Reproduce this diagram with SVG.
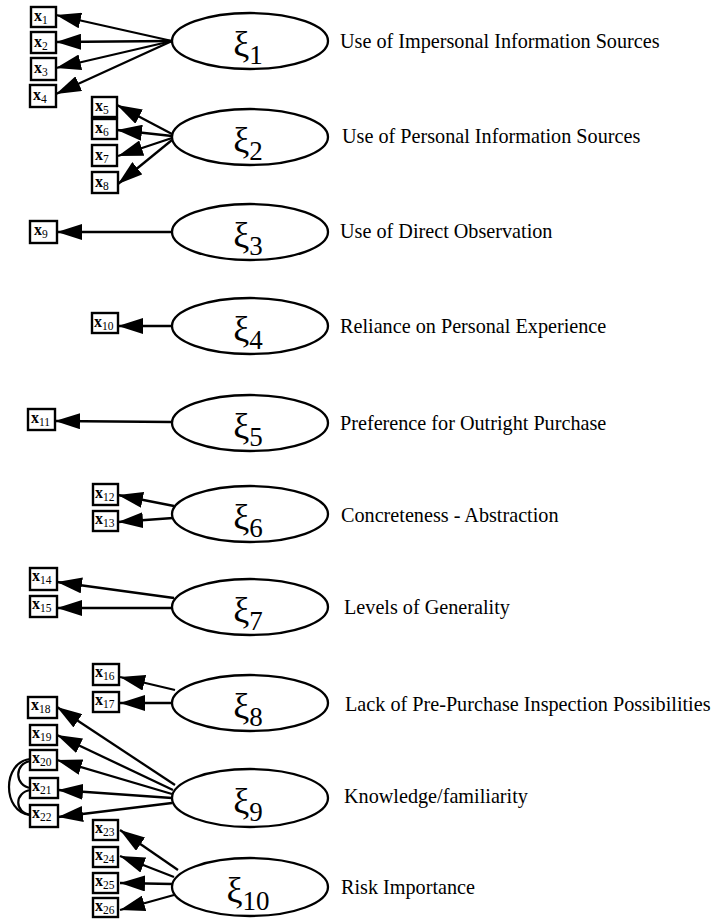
<svg xmlns="http://www.w3.org/2000/svg" width="717" height="919" viewBox="0 0 717 919">
  <style>
    .lat { fill: #fff; stroke: #000; stroke-width: 2.3; }
    .box { fill: #fff; stroke: #000; stroke-width: 2.4; }
    .xi { font-family: "Liberation Serif", "DejaVu Serif", serif; font-size: 36px; fill: #000; text-anchor: middle; }
    .xi tspan { font-size: 27px; }
    .lbl { font-family: "Liberation Serif", "DejaVu Serif", serif; font-size: 20.2px; fill: #000; }
    .ind { font-family: "Liberation Serif", "DejaVu Serif", serif; font-size: 16px; font-weight: bold; fill: #000; }
    .ind tspan { font-size: 11.5px; font-weight: normal; }
    .arr line { stroke: #000; stroke-width: 2.3; marker-end: url(#head); }
    .cov { fill: none; stroke: #000; stroke-width: 2.2; }
  </style>
  <defs>
    <marker id="head" viewBox="0 0 25 16" refX="25" refY="8" markerWidth="25" markerHeight="16" markerUnits="userSpaceOnUse" orient="auto">
      <path d="M0,0 L25,8 L0,16 Z" fill="#000"/>
    </marker>
  </defs>

  <!-- connectors: factor loadings and error covariances -->
  <g id="connectors" class="arr">
    <line x1="172" y1="41" x2="56" y2="15"/>
    <line x1="172" y1="41" x2="56" y2="42"/>
    <line x1="172" y1="41" x2="56" y2="68"/>
    <line x1="172" y1="41" x2="56" y2="94"/>

    <line x1="172" y1="134" x2="117" y2="105"/>
    <line x1="172" y1="136" x2="117" y2="130"/>
    <line x1="172" y1="138" x2="118" y2="156"/>
    <line x1="172" y1="140" x2="118" y2="184"/>

    <line x1="172" y1="232" x2="57" y2="232"/>
    <line x1="172" y1="326" x2="118" y2="326"/>
    <line x1="172" y1="422" x2="55" y2="421"/>

    <line x1="174" y1="506" x2="118" y2="495"/>
    <line x1="173" y1="518" x2="118" y2="522"/>

    <line x1="174" y1="598" x2="57" y2="582"/>
    <line x1="172" y1="608" x2="57" y2="608"/>

    <line x1="175" y1="690" x2="120" y2="677"/>
    <line x1="172" y1="703" x2="120" y2="703"/>

    <line x1="175" y1="785" x2="57" y2="707"/>
    <line x1="173" y1="790" x2="57" y2="735"/>
    <line x1="172" y1="794" x2="57" y2="760"/>
    <line x1="172" y1="798" x2="58" y2="790"/>
    <line x1="172" y1="803" x2="58" y2="817"/>

    <line x1="178" y1="870" x2="120" y2="830"/>
    <line x1="174" y1="877" x2="120" y2="856"/>
    <line x1="172" y1="884" x2="120" y2="883"/>
    <line x1="174" y1="895" x2="120" y2="910"/>

    <path class="cov" d="M30,759 C2,762 2,812 30,815"/>
    <path class="cov" d="M31,761 C14,763 14,786 31,788"/>
    <path class="cov" d="M31,790 C14,792 14,813 31,815"/>
  </g>

  <!-- latent constructs -->
  <g id="xi1"><ellipse class="lat" cx="250" cy="41" rx="78" ry="28"/><text class="xi" x="248" y="56">ξ<tspan dy="8">1</tspan></text><text class="lbl" x="340" y="48">Use of Impersonal Information Sources</text></g>
  <g id="xi2"><ellipse class="lat" cx="250" cy="137" rx="78" ry="28"/><text class="xi" x="248" y="152">ξ<tspan dy="8">2</tspan></text><text class="lbl" x="342" y="143">Use of Personal Information Sources</text></g>
  <g id="xi3"><ellipse class="lat" cx="250" cy="232" rx="78" ry="28"/><text class="xi" x="248" y="247">ξ<tspan dy="8">3</tspan></text><text class="lbl" x="340" y="238">Use of Direct Observation</text></g>
  <g id="xi4"><ellipse class="lat" cx="250" cy="326" rx="78" ry="28"/><text class="xi" x="248" y="341">ξ<tspan dy="8">4</tspan></text><text class="lbl" x="340" y="333">Reliance on Personal Experience</text></g>
  <g id="xi5"><ellipse class="lat" cx="250" cy="423" rx="78" ry="28"/><text class="xi" x="248" y="438">ξ<tspan dy="8">5</tspan></text><text class="lbl" x="340" y="430">Preference for Outright Purchase</text></g>
  <g id="xi6"><ellipse class="lat" cx="250" cy="514" rx="78" ry="28"/><text class="xi" x="248" y="529">ξ<tspan dy="8">6</tspan></text><text class="lbl" x="341" y="522">Concreteness - Abstraction</text></g>
  <g id="xi7"><ellipse class="lat" cx="250" cy="607" rx="78" ry="28"/><text class="xi" x="248" y="622">ξ<tspan dy="8">7</tspan></text><text class="lbl" x="344" y="614">Levels of Generality</text></g>
  <g id="xi8"><ellipse class="lat" cx="250" cy="703" rx="78" ry="28"/><text class="xi" x="248" y="718">ξ<tspan dy="8">8</tspan></text><text class="lbl" x="345" y="711">Lack of Pre-Purchase Inspection Possibilities</text></g>
  <g id="xi9"><ellipse class="lat" cx="250" cy="798" rx="78" ry="29"/><text class="xi" x="248" y="813">ξ<tspan dy="8">9</tspan></text><text class="lbl" x="344" y="803">Knowledge/familiarity</text></g>
  <g id="xi10"><ellipse class="lat" cx="250" cy="887" rx="78" ry="29"/><text class="xi" x="248" y="902">ξ<tspan dy="8">10</tspan></text><text class="lbl" x="341" y="894">Risk Importance</text></g>

  <!-- observed indicators -->
  <g id="x1"><rect class="box" x="31" y="7" width="25" height="20"/><text class="ind" x="34" y="21">x<tspan dy="3">1</tspan></text></g>
  <g id="x2"><rect class="box" x="31" y="32" width="25" height="21"/><text class="ind" x="34" y="47">x<tspan dy="3">2</tspan></text></g>
  <g id="x3"><rect class="box" x="31" y="58" width="25" height="22"/><text class="ind" x="34" y="73">x<tspan dy="3">3</tspan></text></g>
  <g id="x4"><rect class="box" x="30" y="85" width="26" height="22"/><text class="ind" x="33" y="100">x<tspan dy="3">4</tspan></text></g>
  <g id="x5"><rect class="box" x="92" y="97" width="25" height="20"/><text class="ind" x="95" y="111">x<tspan dy="3">5</tspan></text></g>
  <g id="x6"><rect class="box" x="92" y="119" width="25" height="20"/><text class="ind" x="95" y="133">x<tspan dy="3">6</tspan></text></g>
  <g id="x7"><rect class="box" x="92" y="145" width="25" height="21"/><text class="ind" x="95" y="160">x<tspan dy="3">7</tspan></text></g>
  <g id="x8"><rect class="box" x="92" y="172" width="26" height="21"/><text class="ind" x="95" y="187">x<tspan dy="3">8</tspan></text></g>
  <g id="x9"><rect class="box" x="30" y="221" width="27" height="22"/><text class="ind" x="34" y="235">x<tspan dy="3">9</tspan></text></g>
  <g id="x10"><rect class="box" x="92" y="313" width="26" height="20"/><text class="ind" x="94" y="327">x<tspan dy="3">10</tspan></text></g>
  <g id="x11"><rect class="box" x="28" y="409" width="27" height="21"/><text class="ind" x="31" y="423">x<tspan dy="3">11</tspan></text></g>
  <g id="x12"><rect class="box" x="93" y="484" width="25" height="21"/><text class="ind" x="95" y="498">x<tspan dy="3">12</tspan></text></g>
  <g id="x13"><rect class="box" x="93" y="511" width="25" height="20"/><text class="ind" x="95" y="524">x<tspan dy="3">13</tspan></text></g>
  <g id="x14"><rect class="box" x="30" y="568" width="27" height="22"/><text class="ind" x="32" y="581">x<tspan dy="3">14</tspan></text></g>
  <g id="x15"><rect class="box" x="30" y="596" width="27" height="21"/><text class="ind" x="32" y="609">x<tspan dy="3">15</tspan></text></g>
  <g id="x16"><rect class="box" x="93" y="664" width="26" height="21"/><text class="ind" x="95" y="677">x<tspan dy="3">16</tspan></text></g>
  <g id="x17"><rect class="box" x="93" y="692" width="26" height="20"/><text class="ind" x="95" y="705">x<tspan dy="3">17</tspan></text></g>
  <g id="x18"><rect class="box" x="28" y="697" width="29" height="21"/><text class="ind" x="31" y="710">x<tspan dy="3">18</tspan></text></g>
  <g id="x19"><rect class="box" x="30" y="725" width="27" height="20"/><text class="ind" x="32" y="738">x<tspan dy="3">19</tspan></text></g>
  <g id="x20"><rect class="box" x="30" y="750" width="27" height="20"/><text class="ind" x="32" y="763">x<tspan dy="3">20</tspan></text></g>
  <g id="x21"><rect class="box" x="30" y="778" width="28" height="20"/><text class="ind" x="32" y="791">x<tspan dy="3">21</tspan></text></g>
  <g id="x22"><rect class="box" x="30" y="805" width="28" height="22"/><text class="ind" x="32" y="818">x<tspan dy="3">22</tspan></text></g>
  <g id="x23"><rect class="box" x="93" y="820" width="25" height="20"/><text class="ind" x="95" y="833">x<tspan dy="3">23</tspan></text></g>
  <g id="x24"><rect class="box" x="93" y="847" width="25" height="20"/><text class="ind" x="95" y="860">x<tspan dy="3">24</tspan></text></g>
  <g id="x25"><rect class="box" x="93" y="873" width="25" height="20"/><text class="ind" x="95" y="886">x<tspan dy="3">25</tspan></text></g>
  <g id="x26"><rect class="box" x="93" y="898" width="25" height="19"/><text class="ind" x="95" y="911">x<tspan dy="3">26</tspan></text></g>
</svg>
